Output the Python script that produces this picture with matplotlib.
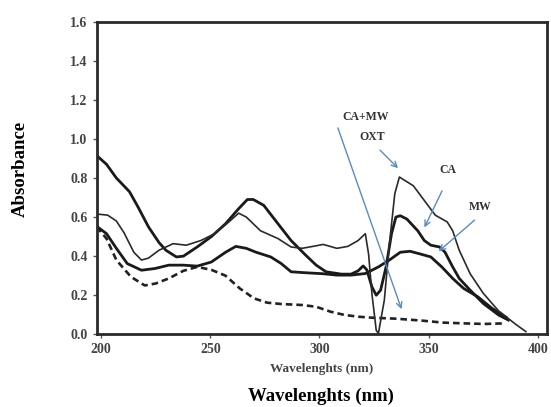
import matplotlib.pyplot as plt

plt.rcParams['font.family'] = ['Liberation Serif', 'DejaVu Serif']
plt.rcParams['font.weight'] = 'bold'

# thin line: dips to 0 at 327 nm and rises to the OXT peak
thin_x = [198.5, 203, 207, 210.5, 215, 218.5, 221.7, 226.5, 233, 239, 245.7, 252, 258.5,
          263, 266.5, 273, 281, 287, 292, 297, 301.7, 308, 313, 317.7, 321, 322.5,
          324, 326, 327, 329.7, 332, 334.5, 336.6, 343, 349, 353, 358.5, 361, 364,
          369, 375, 382, 390, 394.5]
thin_y = [0.615, 0.61, 0.58, 0.52, 0.42, 0.38, 0.39, 0.43, 0.464, 0.456, 0.48, 0.515,
          0.575, 0.62, 0.60, 0.53, 0.49, 0.447, 0.44, 0.45, 0.46, 0.44, 0.45, 0.48, 0.515,
          0.41, 0.21, 0.02, 0.005, 0.175, 0.46, 0.72, 0.805, 0.76, 0.67, 0.61, 0.575,
          0.53, 0.43, 0.31, 0.21, 0.12, 0.05, 0.014]

# thick line starting at 0.9
a_x = [198, 202.5, 207, 213, 217, 221.7, 226.5, 229.7, 234.5, 237.7, 244, 250.5, 257,
       263, 267, 269.7, 274.5, 281, 287, 293.7, 298.5, 303, 310, 314.5, 317.7, 320,
       321.7, 324, 326, 328, 330.5, 333, 335, 337, 340, 345, 348, 351, 355, 357.5,
       361, 364, 369, 375, 382, 386.5]
a_y = [0.915, 0.87, 0.80, 0.73, 0.65, 0.55, 0.47, 0.43, 0.396, 0.40, 0.447, 0.50, 0.566,
       0.643, 0.69, 0.69, 0.66, 0.566, 0.48, 0.405, 0.354, 0.32, 0.308, 0.308, 0.325,
       0.35, 0.33, 0.243, 0.20, 0.226, 0.345, 0.515, 0.60, 0.607, 0.59, 0.53, 0.48,
       0.456, 0.447, 0.42, 0.345, 0.286, 0.226, 0.158, 0.099, 0.073]

# thick line starting at 0.55
b_x = [198, 202.5, 207, 212, 218.5, 224.8, 231, 237.7, 244, 250.5, 257, 261.7, 266.5,
       271, 277.7, 282.5, 287, 293.7, 301.7, 308, 314.5, 321, 327, 332, 337, 341.5,
       346.5, 351, 356, 361, 366, 372.5, 379, 385.5]
b_y = [0.553, 0.515, 0.44, 0.362, 0.328, 0.337, 0.354, 0.354, 0.349, 0.37, 0.42, 0.45,
       0.44, 0.42, 0.396, 0.362, 0.32, 0.315, 0.31, 0.303, 0.303, 0.311, 0.345, 0.38,
       0.42, 0.425, 0.41, 0.396, 0.345, 0.286, 0.235, 0.192, 0.133, 0.087]

# dashed line
d_x = [198, 202.5, 207, 213.7, 220, 225, 231, 237.7, 244, 250.5, 257, 263.5, 270, 276,
       282.5, 292, 298.5, 305, 311.5, 318, 324, 335, 347, 356.5, 366, 375.5, 385]
d_y = [0.55, 0.49, 0.38, 0.294, 0.25, 0.26, 0.286, 0.325, 0.345, 0.33, 0.30, 0.235,
       0.184, 0.162, 0.155, 0.15, 0.141, 0.116, 0.099, 0.09, 0.085, 0.08, 0.07, 0.06,
       0.056, 0.053, 0.056]

labels = ['CA+MW', 'OXT', 'CA', 'MW']
label_pos = [(321, 1.11), (324, 1.01), (359, 0.84), (373.5, 0.653)]
arrow_start = [(308, 1.07), (326.8, 0.953), (356.7, 0.747), (372, 0.594)]
arrow_end = [(338, 0.115), (336.9, 0.84), (347.5, 0.534), (353.6, 0.415)]

fig = plt.figure(figsize=(5.51, 4.07), dpi=100)
ax = fig.add_axes([0.1755, 0.1786, 0.8165, 0.7681])

ax.plot(d_x, d_y, color='#222222', lw=1.9, linestyle=(0, (2.5, 1.5)))
ax.plot(b_x, b_y, color='#1a1a1a', lw=2.0)
ax.plot(a_x, a_y, color='#1a1a1a', lw=2.0)
ax.plot(thin_x, thin_y, color='#2a2a2a', lw=1.2)

for lab, pos, s, e in zip(labels, label_pos, arrow_start, arrow_end):
    ax.text(pos[0], pos[1], lab, ha='center', va='center', fontsize=8.5,
            color='#333333', fontweight='bold')
    ax.annotate('', xy=e, xytext=s,
                arrowprops=dict(arrowstyle='->', color='#5a8ac4', lw=1.0))

ax.set_xlim(198, 404)
ax.set_ylim(0, 1.6)
ax.set_xticks([200, 250, 300, 350, 400])
ax.set_yticks([0.0, 0.2, 0.4, 0.6, 0.8, 1.0, 1.2, 1.4, 1.6])
ax.set_yticklabels(['0.0', '0.2', '0.4', '0.6', '0.8', '1.0', '1.2', '1.4', '1.6'])
ax.tick_params(axis='both', direction='out', length=3, width=1, colors='#555555',
               labelsize=10, labelcolor='#444444')
for lbl in ax.get_xticklabels() + ax.get_yticklabels():
    lbl.set_fontweight('bold')
for sp in ax.spines.values():
    sp.set_linewidth(2.0)
    sp.set_color('#2a2a2a')

ax.set_xlabel('Wavelenghts (nm)', fontsize=9.5, color='#444444', fontweight='bold',
              labelpad=5)
fig.text(0.583, 0.025, 'Wavelenghts (nm)', ha='center', va='center', fontsize=13.5,
         fontweight='bold', color='black')
fig.text(0.036, 0.585, 'Absorbance', ha='center', va='center', rotation=90,
         fontsize=13.5, fontweight='bold', color='black')

fig.savefig('out.png', dpi=100)
